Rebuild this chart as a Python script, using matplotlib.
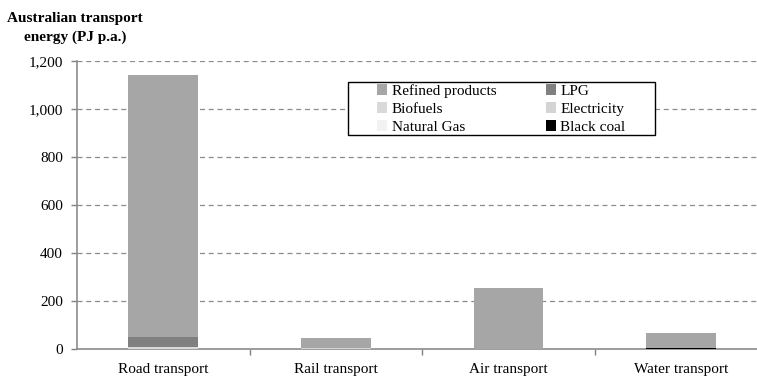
import matplotlib
matplotlib.use("Agg")
import matplotlib.pyplot as plt
from matplotlib.patches import Patch, Rectangle
import numpy as np

categories = ["Road transport", "Rail transport", "Air transport", "Water transport"]

# Energy by fuel, PJ per year
refined_products = [1091, 42, 255, 61]
lpg = [43, 0, 0, 0]
biofuels = [8, 0, 0, 0]
electricity = [0, 5, 0, 0]
natural_gas = [0, 0, 0, 0]
black_coal = [0, 0, 0, 4]

yticks = [0, 200, 400, 600, 800, 1000, 1200]

series = [
    ("Refined products", refined_products, "#A6A6A6"),
    ("LPG", lpg, "#808080"),
    ("Biofuels", biofuels, "#D9D9D9"),
    ("Electricity", electricity, "#D4D4D4"),
    ("Natural Gas", natural_gas, "#F2F2F2"),
    ("Black coal", black_coal, "#000000"),
]

plt.rcParams["font.family"] = ["Liberation Serif", "DejaVu Serif"]
FS = 11

W, H = 757, 379
fig = plt.figure(figsize=(W / 100, H / 100), dpi=100)
ax = fig.add_axes([77 / W, 1 - 349 / H, 1 - 77 / W, (349 - 61) / H])

x = np.arange(len(categories))
width = 0.405

# Stack from the bottom: black coal, natural gas, electricity, biofuels, LPG, refined
bottom = np.zeros(len(categories))
for name, vals, col in reversed(series):
    vals = np.array(vals, dtype=float)
    ax.bar(x, vals, width, bottom=bottom, color=col, edgecolor="none", zorder=3)
    bottom += vals

ax.set_ylim(0, 1200)
ax.set_xlim(-0.5, 3.44)
ax.set_yticks(yticks)
ax.set_yticklabels([f"{v:,}" for v in yticks], fontsize=FS)
ax.set_xticks(x)
ax.set_xticklabels(categories, fontsize=FS)
ax.set_xticks([0.5, 1.5, 2.5], minor=True)
ax.tick_params(axis="x", which="major", length=0, pad=10)
ax.tick_params(axis="x", which="minor", length=4, color="#808080", width=1)
ax.tick_params(axis="y", length=4, color="#808080", width=1, pad=6)

ax.yaxis.grid(True, linestyle=(0, (4, 3)), color="#8C8C8C", linewidth=0.9, zorder=0)
ax.set_axisbelow(True)
for side in ["top", "right"]:
    ax.spines[side].set_visible(False)
for side in ["left", "bottom"]:
    ax.spines[side].set_color("#8C8C8C")
    ax.spines[side].set_linewidth(1.2)

fig.text(75 / W, 1 - 28 / H, "Australian transport\nenergy (PJ p.a.)",
         ha="center", va="center", fontsize=FS, fontweight="bold", linespacing=1.5)

# Legend box
fig.patches.append(Rectangle((348 / W, 1 - 135 / H), (655 - 348) / W, (135 - 82) / H,
                             transform=fig.transFigure, facecolor="white",
                             edgecolor="black", linewidth=1.0, zorder=4))

handles = {name: Patch(facecolor=col, edgecolor="none") for name, _, col in series}
order = ["Refined products", "Biofuels", "Natural Gas", "LPG", "Electricity", "Black coal"]
leg = fig.legend([handles[n] for n in order], order, ncol=2, fontsize=FS,
                 loc="upper left", bbox_to_anchor=(377 / W, 1 - 84 / H),
                 frameon=False, handlelength=0.65, handleheight=0.65,
                 handletextpad=0.3, columnspacing=3.25, labelspacing=0.3,
                 borderpad=0, borderaxespad=0)
leg.set_zorder(5)

fig.savefig("out.png", dpi=100)
